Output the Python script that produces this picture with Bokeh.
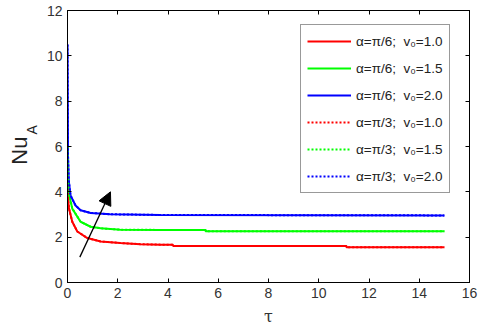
import math
from bokeh.plotting import figure
from bokeh.layouts import row
from bokeh.models import (Range1d, FixedTicker, LinearAxis, Legend, LegendItem,
                          Arrow, NormalHead)
from bokeh.core.properties import value
from bokeh.embed import file_html
from bokeh.resources import INLINE

# ---- data ----
tau_r = [0, 0.02, 0.06, 0.19, 0.39, 0.79, 1.32, 2.1, 2.9, 3.7, 4.2, 4.2, 11.1, 11.1, 15]
nu_r = [4.3, 3.7, 3.26, 2.68, 2.25, 1.96, 1.81, 1.74, 1.69, 1.67, 1.67, 1.61, 1.61, 1.56, 1.56]
tau_g = [0, 0.02, 0.06, 0.19, 0.52, 0.92, 1.32, 2.1, 3.7, 5.5, 5.5, 15]
nu_g = [6.0, 4.6, 3.9, 3.26, 2.68, 2.46, 2.39, 2.33, 2.32, 2.32, 2.26, 2.26]
tau_b = [0, 0.02, 0.05, 0.12, 0.32, 0.52, 0.92, 1.7, 3.7, 15]
nu_b = [10.5, 5.6, 4.5, 3.84, 3.4, 3.19, 3.07, 3.01, 2.98, 2.96]
# alpha = pi/3 curves coincide with the pi/6 ones
tau_r3, nu_r3 = tau_r, nu_r
tau_g3, nu_g3 = tau_g, nu_g
tau_b3, nu_b3 = tau_b, nu_b

labels = ["α=π/6;  v₀=1.0", "α=π/6;  v₀=1.5", "α=π/6;  v₀=2.0",
          "α=π/3;  v₀=1.0", "α=π/3;  v₀=1.5", "α=π/3;  v₀=2.0"]
x_ticks = [0, 2, 4, 6, 8, 10, 12, 14, 16]
y_ticks = [0, 2, 4, 6, 8, 10, 12]
arrow_tail = (0.49, 1.12)
arrow_tip = (1.71, 4.0)
y_title = "Nu"
y_title_sub = "A"

FONT = "Liberation Sans"
H = 328
LW = 40  # width of the strip holding the y-axis title

# ---- strip with the y-axis title (pixel coordinates) ----
lab = figure(width=LW, height=H, output_backend="svg", toolbar_location=None,
             x_range=Range1d(0, LW), y_range=Range1d(0, H),
             min_border=0, outline_line_color=None)
lab.axis.visible = False
lab.grid.visible = False
lab.background_fill_color = "white"
lab.border_fill_color = "white"
lab.text(x=[19], y=[H - 169], text=[y_title], angle=math.pi / 2,
         text_font=value(FONT), text_font_size="22px", text_color="#222222",
         text_align="center", text_baseline="middle")
lab.text(x=[31.5], y=[H - 144], text=[y_title_sub], angle=math.pi / 2,
         text_font=value(FONT), text_font_size="14px", text_color="#222222",
         text_align="center", text_baseline="middle")

# ---- main plot ----
p = figure(width=480 - LW, height=H, output_backend="svg", toolbar_location=None,
           x_range=Range1d(0, 16), y_range=Range1d(0, 12),
           min_border_left=67 - LW, min_border_right=11, min_border_top=10,
           min_border_bottom=43)
p.grid.visible = False
p.outline_line_color = "black"
p.background_fill_color = "white"
p.border_fill_color = "white"

for ax, ticks in ((p.xaxis[0], x_ticks), (p.yaxis[0], y_ticks)):
    ax.ticker = FixedTicker(ticks=ticks)
    ax.major_tick_in = 4
    ax.major_tick_out = 0
    ax.minor_tick_line_color = None
    ax.axis_line_color = "black"
    ax.major_tick_line_color = "black"
    ax.major_label_text_font = FONT
    ax.major_label_text_font_size = "14px"
    ax.major_label_text_color = "#333333"
    ax.major_label_standoff = 5

p.xaxis[0].axis_label = "τ"
p.xaxis[0].axis_label_text_font = "DejaVu Serif"
p.xaxis[0].axis_label_text_font_style = "normal"
p.xaxis[0].axis_label_text_font_size = "16px"
p.xaxis[0].axis_label_text_color = "#333333"
p.xaxis[0].axis_label_standoff = 6

for loc, ticks in (("above", x_ticks), ("right", y_ticks)):
    ax = LinearAxis(ticker=FixedTicker(ticks=ticks), major_tick_in=4, major_tick_out=0,
                    minor_tick_line_color=None,
                    major_label_overrides={t: "" for t in ticks},
                    major_label_standoff=0, axis_line_color="black")
    p.add_layout(ax, loc)

rs = []
series = [(tau_r, nu_r, "#ff0000", "solid"), (tau_g, nu_g, "#00ff00", "solid"),
          (tau_b, nu_b, "#0000ff", "solid"),
          (tau_r3, nu_r3, "#ff0000", "2 2"), (tau_g3, nu_g3, "#00ff00", "2 2"),
          (tau_b3, nu_b3, "#0000ff", "2 2")]
for t, n, c, d in series:
    rs.append(p.line(t, n, line_color=c, line_width=2, line_dash=d))

legend = Legend(items=[LegendItem(label=l, renderers=[r]) for l, r in zip(labels, rs)],
                location=(233, 89), padding=6, spacing=7, label_height=20,
                glyph_height=20, glyph_width=44, label_standoff=5, margin=0,
                label_text_font=FONT, label_text_font_size="13.5px",
                label_text_color="#222222", border_line_color="#333333",
                border_line_width=1, background_fill_color="white",
                background_fill_alpha=1)
p.add_layout(legend, "center")

p.add_layout(Arrow(end=NormalHead(size=13, fill_color="black", line_color="black"),
                   x_start=arrow_tail[0], y_start=arrow_tail[1],
                   x_end=arrow_tip[0], y_end=arrow_tip[1],
                   line_color="black", line_width=1.3))

layout = row(lab, p, spacing=0)
layout.styles = {"position": "absolute", "top": "0px", "left": "0px"}

open("out.html", "w").write(file_html(layout, INLINE))
